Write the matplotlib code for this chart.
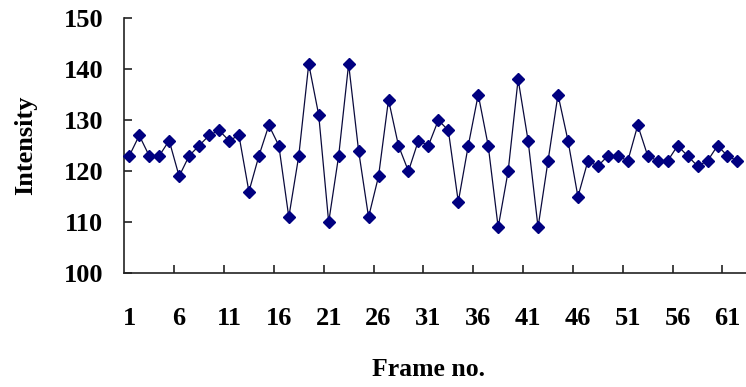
import numpy as np
import matplotlib
matplotlib.use("Agg")
from matplotlib import pyplot as plt

intensity = [123, 127, 123, 123, 126, 119, 123, 125, 127, 128,
             126, 127, 116, 123, 129, 125, 111, 123, 141, 131,
             110, 123, 141, 124, 111, 119, 134, 125, 120, 126,
             125, 130, 128, 114, 125, 135, 125, 109, 120, 138,
             126, 109, 122, 135, 126, 115, 122, 121, 123, 123,
             122, 129, 123, 122, 122, 125, 123, 121, 122, 125,
             123, 122]
frames = np.arange(1, len(intensity) + 1)
label_frames = frames[::5]
y_ticks = [100, 110, 120, 130, 140, 150]

plt.rcParams['font.family'] = ['Liberation Serif', 'DejaVu Serif']
plt.rcParams['font.weight'] = 'bold'

fig = plt.figure(figsize=(7.46, 3.87), dpi=100)
W, H = 746, 387
band = 9.97
n_slots = 63
x0, y_bottom, y_top = 124.3, 273.3, 18.0
ax = fig.add_axes([x0 / W, (H - y_bottom) / H,
                   n_slots * band / W, (y_bottom - y_top) / H])

ax.plot(frames, intensity, color='#0a0a3c', lw=0.9, zorder=2)
ax.plot(frames, intensity, ls='none', marker='D', ms=6.2,
        mfc='#000080', mec='#000080', zorder=3, clip_on=False)

ax.set_xlim(0.5, n_slots + 0.5)
ax.set_ylim(100, 150)

for side in ['top', 'right']:
    ax.spines[side].set_visible(False)
for side in ['left', 'bottom']:
    ax.spines[side].set_linewidth(1.2)
    ax.spines[side].set_color('#222222')

# ticks between categories, labels on categories
ax.set_xticks(np.arange(5.5, n_slots, 5))
ax.set_xticklabels([])
ax.set_xticks(label_frames, minor=True)
ax.set_xticklabels([str(f) for f in label_frames], minor=True)
ax.tick_params(axis='x', which='major', direction='in', length=6,
               width=1.2, color='#222222')
ax.tick_params(axis='x', which='minor', length=0, pad=24, labelsize=19)

ax.set_yticks(y_ticks)
ax.set_yticklabels([str(v) for v in y_ticks])
ax.tick_params(axis='y', direction='in', length=6, width=1.2,
               color='#222222', pad=15, labelsize=19)

ax.set_xlabel('Frame no.', fontsize=18.5, fontweight='bold')
ax.xaxis.label.set_va('center')
ax.xaxis.set_label_coords((428 - x0) / (n_slots * band),
                          (y_bottom - 369) / (y_bottom - y_top))
ax.set_ylabel('Intensity', fontsize=19, fontweight='bold')
ax.yaxis.label.set_va('center')
ax.yaxis.set_label_coords((26 - x0) / (n_slots * band), 0.5)

fig.savefig('out.png', dpi=100)
